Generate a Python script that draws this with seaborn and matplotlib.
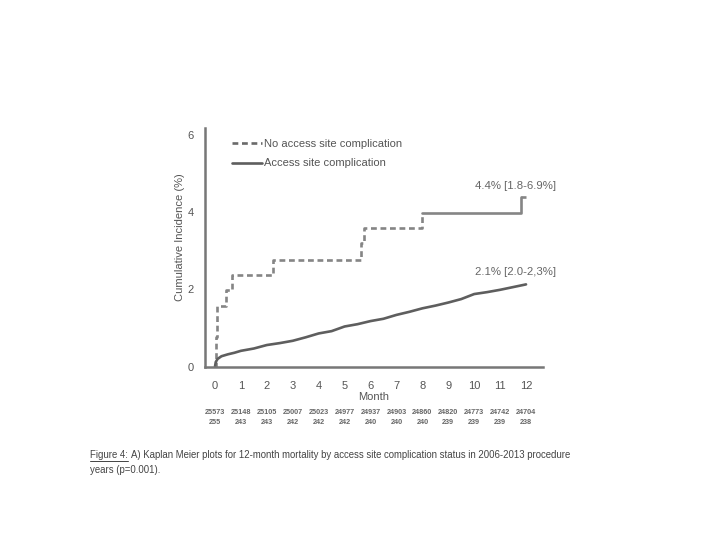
import numpy as np
import pandas as pd
import matplotlib
matplotlib.use("Agg")
import matplotlib.pyplot as plt
import seaborn as sns
from matplotlib.lines import Line2D

# upper (step) curve
t_upper = [0, 0.02, 0.09, 0.41, 0.64, 2.25, 5.64, 5.73, 8.0, 11.81, 12.0]
ci_upper = [0, 0.78, 1.57, 1.98, 2.37, 2.76, 3.19, 3.60, 3.98, 4.40, 4.40]

# lower curve
t_lower = [0, 0.03, 0.1, 0.25, 0.5, 0.75, 1, 1.5, 2, 2.5, 3, 3.5, 4, 4.5, 5, 5.5,
           6, 6.5, 7, 7.5, 8, 8.5, 9, 9.5, 10, 10.5, 11, 11.5, 12]
ci_lower = [0, 0.12, 0.2, 0.27, 0.32, 0.36, 0.41, 0.47, 0.56, 0.61, 0.67, 0.76, 0.86,
            0.92, 1.04, 1.1, 1.18, 1.24, 1.34, 1.42, 1.51, 1.58, 1.66, 1.75, 1.88,
            1.93, 1.99, 2.06, 2.13]

months = list(range(13))
at_risk_1 = [25573, 25148, 25105, 25007, 25023, 24977, 24937, 24903, 24860, 24820, 24773, 24742, 24704]
at_risk_2 = [255, 243, 243, 242, 242, 242, 240, 240, 240, 239, 239, 239, 238]

label_dashed = "No access site complication"
label_solid = "Access site complication"
note_upper = "4.4% [1.8-6.9%]"
note_lower = "2.1% [2.0-2,3%]"

sns.set_style("white")
plt.rcParams['font.family'] = ['Liberation Sans', 'DejaVu Sans']

c_up = "#858585"
c_low = "#5e5e5e"
c_txt = "#555555"
dash = (0, (2.2, 1.4))
lw = 1.9

fig = plt.figure(figsize=(7.2, 5.4), dpi=100)
ax = fig.add_axes([0.2847, 0.321, 0.754 - 0.2847, 0.763 - 0.321])

up = pd.DataFrame({"t": t_upper, "ci": ci_upper})
low = pd.DataFrame({"t": t_lower, "ci": ci_lower})

# upper curve is drawn dashed, then solid from month 8, then dashed again at the end
sns.lineplot(data=up.iloc[0:9], x="t", y="ci", ax=ax, color=c_up, lw=lw,
             linestyle=dash, drawstyle="steps-post", estimator=None, sort=False)
sns.lineplot(data=up.iloc[8:10], x="t", y="ci", ax=ax, color=c_up, lw=lw,
             drawstyle="steps-post", estimator=None, sort=False)
sns.lineplot(data=up.iloc[9:11], x="t", y="ci", ax=ax, color=c_up, lw=lw,
             linestyle=dash, drawstyle="steps-post", estimator=None, sort=False)
sns.lineplot(data=low, x="t", y="ci", ax=ax, color=c_low, lw=lw, estimator=None, sort=False)

ax.set_xlim(-0.386, 12.65)
ax.set_ylim(0, 6.18)
ax.set_xticks(months)
ax.set_yticks([0, 2, 4, 6])
for s in ["top", "right"]:
    ax.spines[s].set_visible(False)
for s in ["left", "bottom"]:
    ax.spines[s].set_color("#777777")
    ax.spines[s].set_linewidth(1.8)
ax.tick_params(axis="both", direction="out", length=5, width=1.5, color="#777777",
               labelsize=8, labelcolor=c_txt, pad=3)
ax.tick_params(axis="x", pad=5)
ax.set_xlabel("Month", fontsize=8, color=c_txt, labelpad=1)
ax.set_ylabel("Cumulative Incidence (%)", fontsize=8, color=c_txt)
ax.yaxis.set_label_coords(-0.059, 0.543)

ax.text(13.16, 4.68, note_upper, ha="right", va="center", fontsize=8.2, color="#666666")
ax.text(13.16, 2.45, note_lower, ha="right", va="center", fontsize=8.2, color="#666666")

handles = [Line2D([], [], color="#6a6a6a", lw=lw, linestyle=dash),
           Line2D([], [], color=c_low, lw=lw)]
leg = ax.legend(handles, [label_dashed, label_solid], loc="upper left",
                bbox_to_anchor=(232 / 720, 1 - 139 / 540), bbox_transform=fig.transFigure,
                frameon=False, fontsize=8, handlelength=2.7, handletextpad=0.15,
                borderpad=0, borderaxespad=0, labelspacing=0.85)
for t in leg.get_texts():
    t.set_color(c_txt)

# number at risk table
xtr = ax.get_xaxis_transform()
for m, a, b in zip(months, at_risk_1, at_risk_2):
    ax.text(m, -0.194, str(a), transform=xtr, ha="center", va="center",
            fontsize=5.2, color="#666666", fontweight="bold", clip_on=False)
    ax.text(m, -0.232, str(b), transform=xtr, ha="center", va="center",
            fontsize=5.2, color="#666666", fontweight="bold", clip_on=False)

# caption
fig.canvas.draw()
r = fig.canvas.get_renderer()
cap_fs = 6.9
t0 = fig.text(90 / 720, 1 - 455 / 540, "Figure 4:", fontsize=cap_fs, color="#444444", va="center")
bb = t0.get_window_extent(r)
fig.add_artist(Line2D([bb.x0 / 720, bb.x1 / 720], [(bb.y0 - 1) / 540] * 2,
                      color="#444444", lw=0.7, transform=fig.transFigure))
fig.text((bb.x1 + 3) / 720, 1 - 455 / 540,
         "A) Kaplan Meier plots for 12-month mortality by access site complication status in 2006-2013 procedure",
         fontsize=cap_fs, color="#444444", va="center")
fig.text(90 / 720, 1 - 470 / 540, "years (p=0.001).", fontsize=cap_fs, color="#444444", va="center")

fig.savefig("out.png", dpi=100)
